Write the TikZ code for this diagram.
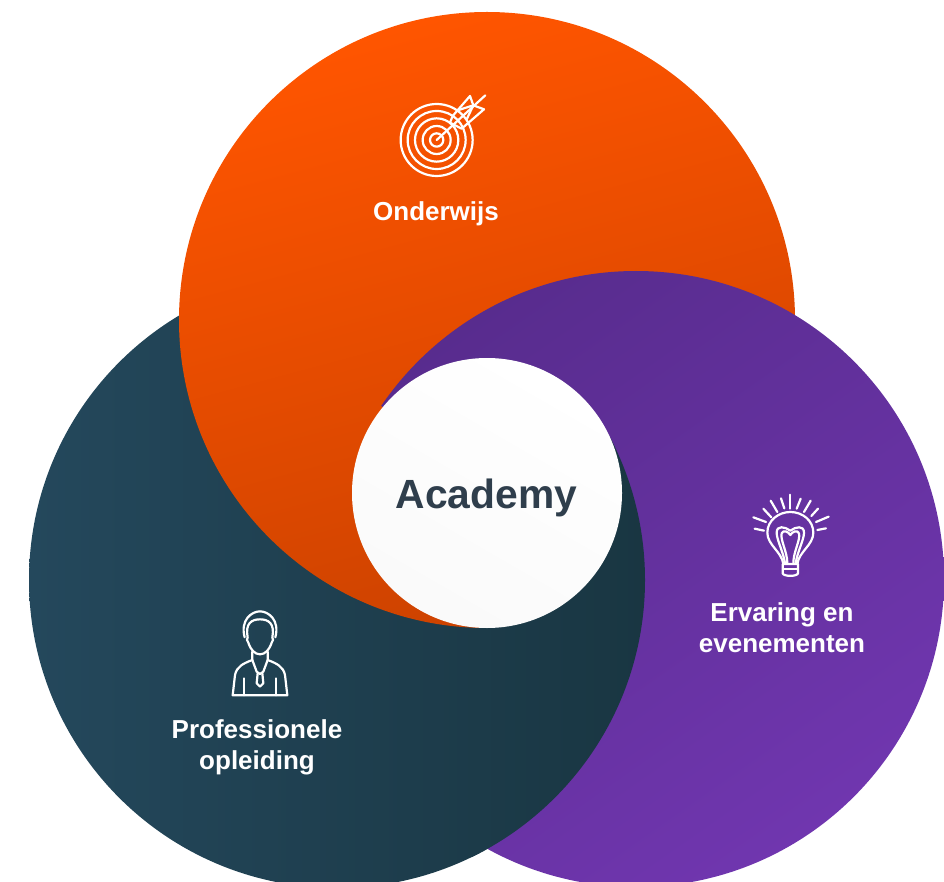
\documentclass[tikz,border=0pt]{standalone}
\usepackage{fontspec}
\setmainfont{Liberation Sans}
\definecolor{orA}{HTML}{FF5500}
\definecolor{orB}{HTML}{CC4200}
\definecolor{teA}{HTML}{24485C}
\definecolor{teB}{HTML}{193642}
\definecolor{puA}{HTML}{582C8E}
\definecolor{puB}{HTML}{7036AF}
\definecolor{inkdark}{HTML}{2F3E4C}
\tikzset{
  lab/.style={text=white,font=\bfseries\fontsize{26}{31}\selectfont,align=center,inner sep=0pt},
  ico/.style={draw=white,line width=2.2pt,line cap=round,line join=round,fill=none},
  orangefill/.style={top color=orA,bottom color=orB,shading angle=15},
  tealfill/.style={left color=teA,right color=teB},
  purplefill/.style={left color=puA,right color=puB,shading angle=35},
}
\begin{document}
\begin{tikzpicture}[x=1pt,y=-1pt]
\useasboundingbox (0,0) rectangle (944,882);
\begin{scope}
\clip (0,0) rectangle (944,882);
\shade[tealfill] (337,580) circle[radius=308];
\shade[orangefill] (487,320) circle[radius=308];
\begin{scope}
\clip (487,493) -- (379,404) -- (300,100) -- (950,100) -- (950,900) -- (487,900) -- cycle;
\shade[purplefill] (636,579) circle[radius=308];
\end{scope}
\begin{scope}
\clip (487,493) -- (950,277) -- (950,900) -- (470,900) -- cycle;
\shade[tealfill] (337,580) circle[radius=308];
\end{scope}
\end{scope}
\node[circle,minimum size=270pt,inner sep=0pt,top color=white,bottom color=white!98!black,shading angle=-30] (hub) at (487,493) {};
\node[text=inkdark,font=\bfseries\fontsize{40.8}{44}\selectfont,inner sep=0pt] (acad) at (486.5,498) {Academy};
\node[lab] (ond) at (436,214) {Onderwijs};
\node[lab] (erv) at (782,628) {Ervaring en\\evenementen};
\node[lab] (pro) at (257,747) {Professionele\\opleiding};
% target icon
\begin{scope}[shift={(360,80)},x=.3333pt,y=-.3333pt]
\foreach \r in {108,87,65,42,20}{\draw[ico] (230,180) circle[radius=\r*.3333pt];}
\draw[ico] (230,180) -- (376,46);
\draw[ico] (278,108) -- (330,48) -- (340,76) -- (372,88) -- (305,146) -- (270,128) -- cycle;
\draw[ico] (290,92) -- (340,76);
\draw[ico] (320,118) -- (340,76);
\end{scope}
% bulb icon
\begin{scope}[shift={(730,480)},x=.3333pt,y=-.3333pt]
\draw[ico] (160,252) .. controls (155,215) and (112,195) .. (112,158) .. controls (112,122) and (145,96) .. (181,96) .. controls (218,96) and (250,122) .. (250,158) .. controls (250,195) and (207,215) .. (202,252) -- cycle;
\draw[ico] (158,252) -- (158,280) .. controls (160,290) and (202,290) .. (204,280) -- (204,252);
\draw[ico] (160,268) -- (202,268);
\draw[ico] (165,250) .. controls (160,215) and (140,180) .. (140,158) .. controls (140,135) and (165,140) .. (181,152) .. controls (197,140) and (222,135) .. (222,158) .. controls (222,180) and (202,215) .. (197,250);
\draw[ico] (172,250) .. controls (172,215) and (150,180) .. (155,160) .. controls (160,148) and (175,155) .. (181,165) .. controls (187,155) and (202,148) .. (207,160) .. controls (212,180) and (190,215) .. (190,250);
\draw[ico] (181,44) -- (181,86);
\draw[ico] (153,55) -- (163,85);
\draw[ico] (122,62) -- (142,96);
\draw[ico] (100,86) -- (124,112);
\draw[ico] (70,112) -- (108,126);
\draw[ico] (74,146) -- (102,152);
\draw[ico] (212,56) -- (200,86);
\draw[ico] (242,62) -- (222,96);
\draw[ico] (264,86) -- (244,108);
\draw[ico] (296,110) -- (258,126);
\draw[ico] (288,145) -- (262,150);
\end{scope}
% person icon
\begin{scope}[shift={(210,600)},x=.3333pt,y=-.3333pt]
\draw[ico] (113,112) .. controls (105,70) and (125,58) .. (150,58) .. controls (175,58) and (195,70) .. (187,112) .. controls (190,115) and (190,125) .. (185,128) .. controls (178,150) and (165,163) .. (150,163) .. controls (135,163) and (122,150) .. (115,128) .. controls (110,125) and (110,115) .. (113,112) -- cycle;
\draw[ico] (104,112) .. controls (90,60) and (125,34) .. (150,34) .. controls (175,34) and (210,60) .. (196,112);
\draw[ico] (127,155) -- (127,180) .. controls (100,190) and (80,200) .. (75,225) -- (68,286) -- (232,286) -- (225,225) .. controls (220,200) and (200,190) .. (173,180) -- (173,155);
\draw[ico] (127,180) -- (140,215) -- (150,222) -- (160,215) -- (173,180);
\draw[ico] (143,220) -- (140,250) -- (150,260) -- (160,250) -- (157,220);
\draw[ico] (102,235) -- (102,286);
\draw[ico] (198,235) -- (198,286);
\end{scope}
\end{tikzpicture}
\end{document}
